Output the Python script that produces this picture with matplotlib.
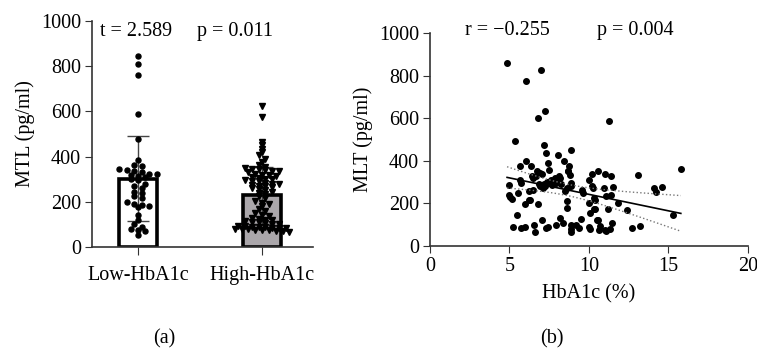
import numpy as np
import matplotlib
matplotlib.use("Agg")
from matplotlib import pyplot as plt

plt.rcParams['font.family'] = ['Liberation Serif', 'DejaVu Serif']
plt.rcParams['font.size'] = 14.5

# panel (a): MTL by group
groups = ['Low-HbA1c', 'High-HbA1c']
low = [845, 810, 760, 590, 480, 385, 365, 360, 345, 340, 335, 330, 325, 325, 320,
       315, 310, 300, 295, 280, 270, 260, 245, 240, 225, 215, 200, 190, 185, 180,
       175, 140, 120, 100, 90, 80, 75, 70, 55]
high = [625, 575, 465, 450, 435, 420, 405, 390, 375, 365, 355, 350, 345, 345, 340,
        335, 335, 330, 325, 320, 320, 315, 310, 305, 300, 300, 295, 290, 290, 285,
        280, 280, 275, 270, 270, 265, 260, 255, 250, 245, 240, 235, 225, 215, 205,
        195, 190, 180, 170, 160, 150, 140, 135, 130, 125, 120, 120, 115, 110, 110,
        105, 100, 100, 95, 95, 90, 90, 90, 85, 85, 85, 80, 80, 80, 75, 75, 75, 70,
        70, 65]
bar_mean = [303, 228]
bar_sd = [187, 125]

# panel (b): HbA1c vs MLT
hba1c = [4.85, 4.95, 5.0, 5.05, 5.15, 5.25, 5.35, 5.45, 5.55, 5.65, 5.65, 5.7, 5.75,
         5.95, 6.0, 6.05, 6.07, 6.2, 6.2, 6.3, 6.35, 6.4, 6.45, 6.5, 6.55, 6.6, 6.65,
         6.75, 6.78, 6.8, 6.85, 6.9, 6.95, 6.97, 7.05, 7.05, 7.1, 7.15, 7.18, 7.25,
         7.26, 7.28, 7.3, 7.35, 7.4, 7.45, 7.5, 7.6,
         7.7, 7.85, 7.9, 7.95, 7.95, 8.06, 8.1, 8.15, 8.2, 8.25, 8.35, 8.42, 8.5, 8.6,
         8.6, 8.6, 8.7, 8.71, 8.75, 8.8, 8.84, 8.85, 8.9, 8.85, 8.85, 8.9, 9.2,
         9.35, 9.5, 9.55, 9.6, 10.0, 10.05, 10.03, 10.0, 10.05, 10.2, 10.22, 10.25,
         10.3, 10.3, 10.35, 10.4, 10.5, 10.6, 10.56, 10.65, 10.7, 10.95, 11.0, 11.04,
         11.1, 11.1, 11.2, 11.25, 11.3, 11.37, 11.4, 11.45, 11.5,
         11.8, 12.4, 12.7, 13.07, 13.2, 14.1, 14.2, 14.6, 15.3, 15.78]
mlt = [859, 285, 240, 230, 220, 90, 492, 145, 250, 375, 310, 295, 85,
       90, 195, 398, 773, 260, 215, 215, 375, 330, 320, 265, 100, 65, 330,
       350, 602, 195, 290, 345, 280, 826, 340, 120, 270, 290, 473, 280,
       636, 437, 85, 300, 90, 389, 355, 310,
       285, 320, 310, 295, 100, 425, 330, 320, 130, 290, 110, 400, 260, 270,
       210, 180, 350, 353, 376, 335, 453, 295, 280, 80, 65, 100, 100,
       85, 125, 265, 250, 200, 155, 309, 90, 80, 280, 340, 270,
       225, 175, 215, 175, 120, 120, 353, 75, 95, 270, 75, 340,
       70, 235, 175, 588, 80, 329, 240, 110, 275,
       200, 170, 85, 332, 95, 270, 255, 275, 145, 360]


def swarm_offsets(vals, bin_size=24, step=0.06):
    vals = np.asarray(vals, dtype=float)
    offs = np.zeros(len(vals))
    bins = np.round(vals / bin_size).astype(int)
    for b in np.unique(bins):
        idx = np.where(bins == b)[0]
        n = len(idx)
        offs[idx] = (np.arange(n) - (n - 1) / 2) * step
    return offs


fig = plt.figure(figsize=(7.57, 3.51), dpi=100)
spine_col = '#333333'

# ---- (a)
ax1 = fig.add_axes([0.1215, 0.2963, 0.292, 0.6439])
xpos = [0, 1]
ax1.bar(xpos, bar_mean, width=0.3, color=['white', '#aba7ab'],
        edgecolor='black', linewidth=2.6, zorder=1)
ax1.errorbar(xpos, bar_mean, yerr=bar_sd, fmt='none', ecolor='#444444',
             elinewidth=1.0, capsize=8, capthick=1.0, zorder=2)
ax1.plot(xpos[0] + swarm_offsets(low, 24, 0.06), low, 'o', color='black',
         ms=3.6, zorder=3)
ax1.plot(xpos[1] + swarm_offsets(high, 18, 0.055), high, 'v', color='black',
         ms=4.2, zorder=3)
ax1.set_xlim(-0.371, 1.411)
ax1.set_ylim(0, 1000)
ax1.set_yticks([0, 200, 400, 600, 800, 1000])
ax1.set_xticks(xpos)
ax1.set_xticklabels(groups)
ax1.set_ylabel('MTL (pg/ml)', labelpad=4)
ax1.tick_params(axis='x', length=6, pad=8, color=spine_col)
ax1.tick_params(axis='y', length=5, pad=3, color=spine_col)
for s in ['top', 'right']:
    ax1.spines[s].set_visible(False)
for s in ['left', 'bottom']:
    ax1.spines[s].set_color(spine_col)
    ax1.spines[s].set_linewidth(1.2)
ax1.text(0.2, 0.955, 't = 2.589', transform=ax1.transAxes, ha='center', va='center',
         fontsize=14.5)
ax1.text(0.647, 0.955, 'p = 0.011', transform=ax1.transAxes, ha='center', va='center',
         fontsize=14.5)

# ---- (b)
ax2 = fig.add_axes([0.568, 0.2991, 0.420, 0.607])
x = np.array(hba1c)
y = np.array(mlt)
ax2.plot(x, y, 'o', color='black', ms=4, zorder=3)
slope, icpt = np.polyfit(x, y, 1)
xl = np.linspace(x.min(), x.max(), 100)
yl = slope * xl + icpt
n = len(x)
resid = y - (slope * x + icpt)
s_err = np.sqrt(np.sum(resid ** 2) / (n - 2))
ci = 1.977 * s_err * np.sqrt(1 / n + (xl - x.mean()) ** 2 / np.sum((x - x.mean()) ** 2))
ax2.plot(xl, yl, color='black', lw=1.2, zorder=4)
ax2.plot(xl, yl + ci, color='#777777', lw=1.0, ls=':', zorder=4)
ax2.plot(xl, yl - ci, color='#777777', lw=1.0, ls=':', zorder=4)
ax2.set_xlim(0, 20)
ax2.set_ylim(0, 1000)
ax2.set_xticks([0, 5, 10, 15, 20])
ax2.set_yticks([0, 200, 400, 600, 800, 1000])
ax2.set_xlabel('HbA1c (%)', labelpad=6)
ax2.set_ylabel('MLT (pg/ml)', labelpad=4)
ax2.tick_params(axis='both', length=5, pad=3, color=spine_col)
for s in ['top', 'right']:
    ax2.spines[s].set_visible(False)
for s in ['left', 'bottom']:
    ax2.spines[s].set_color(spine_col)
    ax2.spines[s].set_linewidth(1.2)
ax2.text(0.245, 1.012, 'r = \u22120.255', transform=ax2.transAxes, ha='center',
         va='center', fontsize=14.5)
ax2.text(0.645, 1.012, 'p = 0.004', transform=ax2.transAxes, ha='center',
         va='center', fontsize=14.5)

fig.text(164 / 757, 1 - 339 / 351, '(a)', ha='center', va='center', fontsize=14.5)
fig.text(552 / 757, 1 - 339 / 351, '(b)', ha='center', va='center', fontsize=14.5)

fig.savefig('out.png', dpi=100)
